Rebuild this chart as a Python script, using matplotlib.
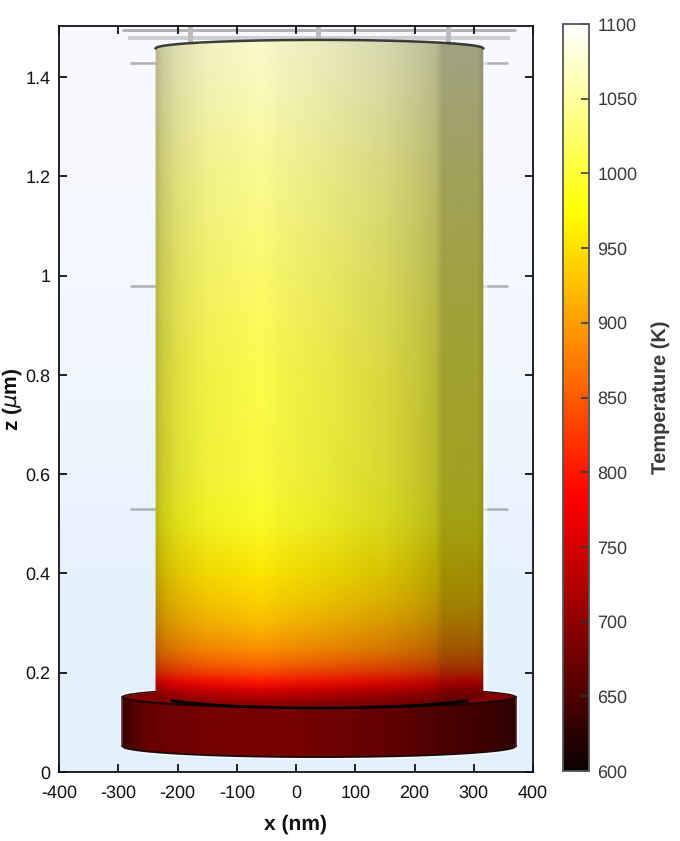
import numpy as np
import matplotlib
matplotlib.use('Agg')
import matplotlib.pyplot as plt
from matplotlib.colors import LinearSegmentedColormap, Normalize
from matplotlib.image import NonUniformImage
from matplotlib.patches import Polygon
from matplotlib.cm import ScalarMappable

plt.rcParams['font.family'] = ['Liberation Sans', 'DejaVu Sans']
plt.rcParams['axes.unicode_minus'] = False
plt.rcParams['text.hinting'] = 'no_hinting'
plt.rcParams['text.hinting_factor'] = 1

# ---- data ----
T_MIN, T_MAX = 600, 1100
CBAR_TICKS = [600, 650, 700, 750, 800, 850, 900, 950, 1000, 1050, 1100]
X_TICKS = [-400, -300, -200, -100, 0, 100, 200, 300, 400]
Z_TICKS = [0, 0.2, 0.4, 0.6, 0.8, 1.0, 1.2, 1.4]
Z_LABELS = ['0', '0.2', '0.4', '0.6', '0.8', '1', '1.2', '1.4']

# temperature on the wire (rows: z, columns: x)
WIRE_X = [-237, -60, 130, 316]
WIRE_Z = [0.125, 0.14, 0.16, 0.18, 0.20, 0.225, 0.25, 0.30, 0.35, 0.40, 0.50,
          0.60, 0.80, 1.00, 1.20, 1.40, 1.48]
WIRE_T = [[690, 695, 690, 680],
          [700, 710, 705, 700],
          [735, 750, 740, 735],
          [785, 800, 790, 785],
          [825, 838, 830, 825],
          [860, 872, 865, 860],
          [885, 895, 890, 885],
          [915, 928, 920, 918],
          [935, 945, 940, 938],
          [950, 958, 955, 952],
          [985, 993, 990, 988],
          [1000, 1005, 1002, 1000],
          [1010, 1012, 1012, 1010],
          [1025, 1027, 1027, 1025],
          [1045, 1046, 1046, 1045],
          [1068, 1070, 1070, 1068],
          [1075, 1078, 1078, 1075]]

# lighting of the wire across x
SHADE_X = [-237, -225, -200, -150, -100, -60, -30, 50, 150, 200, 235, 246, 305, 316]
SHADE_DARK = [0.28, 0.20, 0.13, 0.06, 0.04, 0.02, 0.05, 0.09, 0.16, 0.22, 0.28, 0.37, 0.37, 0.44]

# pad (disc) under the wire
PAD_X = [-293, -280, -250, -150, 0, 150, 280, 340, 371]
PAD_T = [672, 678, 682, 682, 682, 680, 672, 668, 664]
PAD_DARK = [0.45, 0.3, 0.12, 0.0, 0.0, 0.14, 0.34, 0.44, 0.5]
PAD_TOP_T = 690

# geometry of the two bodies (nm, um)
WIRE_LEFT, WIRE_RIGHT = -237, 316
WIRE_TOP_EDGE, WIRE_TOP_BULGE = 1.458, 0.017
WIRE_BASE_EDGE, WIRE_BASE_BULGE = 0.155, 0.026
PAD_LEFT, PAD_RIGHT = -293, 371
PAD_TOP_EDGE, PAD_FRONT_BULGE, PAD_BACK_BULGE = 0.151, 0.021, 0.020
PAD_BASE_EDGE, PAD_BASE_BULGE = 0.052, 0.022

# faint mesh marks behind the object
MARK_FULL = [(1.495, -293, 371, 3.0, '#b4b4b8'), (1.478, -283, 362, 4.0, '#cfcfd3')]
MARK_Z = [1.428, 0.979, 0.530]
MARK_SIDES = [(-280, -237), (316, 357)]
MARK_STUB_X = [-179, 37, 257]

BG_ROWS = [[[247, 249, 255]], [[240, 246, 254]], [[226, 240, 254]]]

# ---- figure ----
fig = plt.figure(figsize=(6.8, 8.41), dpi=100)
W, H = 680, 841
ax = fig.add_axes([59 / W, 1 - 772 / H, (533 - 59) / W, (772 - 26) / H])
ax.set_xlim(-400, 400)
ax.set_ylim(0, 1.503)

cmap = plt.get_cmap('hot')
norm = Normalize(T_MIN, T_MAX)
dark = LinearSegmentedColormap.from_list('dark', [(0, 0, 0, 0), (0, 0, 0, 1)])
dark_norm = Normalize(0, 1)

ax.imshow(np.array(BG_ROWS, dtype=np.uint8), extent=(-400, 400, 0, 1.503), aspect='auto',
          interpolation='bilinear', zorder=0)


def arc(x, left, right, edge, bulge):
    u = (np.asarray(x, float) - (left + right) / 2) / ((right - left) / 2)
    return edge + bulge * np.sqrt(np.clip(1 - u ** 2, 0, 1))


def field(x, z, values, colormap, scale, clip, zorder):
    im = NonUniformImage(ax, interpolation='bilinear', cmap=colormap, norm=scale, zorder=zorder,
                         extent=(x[0], x[-1], z[0], z[-1]))
    im.set_data(np.asarray(x, float), np.asarray(z, float), np.asarray(values, float))
    ax.add_image(im)
    im.set_clip_path(clip)
    return im


# background marks
for z, a, b, lw, c in MARK_FULL:
    ax.plot([a, b], [z, z], color=c, lw=lw * 0.72, solid_capstyle='butt', zorder=1)
for z in MARK_Z:
    for a, b in MARK_SIDES:
        ax.plot([a, b], [z, z], color='#b2b2b6', lw=2.6 * 0.72, solid_capstyle='butt', zorder=1)
for x in MARK_STUB_X:
    ax.plot([x, x], [1.458, 1.503], color='#bcbcbc', lw=5 * 0.72, solid_capstyle='butt', zorder=1)

xs_pad = np.linspace(PAD_LEFT, PAD_RIGHT, 241)
xs_wire = np.linspace(WIRE_LEFT, WIRE_RIGHT, 241)

pad_top_front = arc(xs_pad, PAD_LEFT, PAD_RIGHT, PAD_TOP_EDGE, -PAD_FRONT_BULGE)
pad_top_back = arc(xs_pad, PAD_LEFT, PAD_RIGHT, PAD_TOP_EDGE, PAD_BACK_BULGE)
pad_bottom = arc(xs_pad, PAD_LEFT, PAD_RIGHT, PAD_BASE_EDGE, -PAD_BASE_BULGE)

# halo around the pad and right of the wire
halo_x = np.r_[xs_pad, xs_pad[::-1]]
halo_z = np.r_[pad_bottom, pad_top_back[::-1]]
ax.add_patch(Polygon(np.c_[halo_x, halo_z], closed=True, fc='none', ec='white', lw=3.6, alpha=0.6, zorder=2))
ax.plot([WIRE_RIGHT + 3, WIRE_RIGHT + 3], [0.16, 1.45], color='white', lw=2.5, alpha=0.6,
        solid_capstyle='butt', zorder=2)

# pad side
pad_clip = Polygon(np.c_[np.r_[xs_pad, xs_pad[::-1]], np.r_[pad_bottom, pad_top_front[::-1]]],
                   closed=True, fc='none', ec='none', transform=ax.transData)
ax.add_patch(pad_clip)
pz = [0.0, 0.16]
field(PAD_X, pz, [PAD_T, PAD_T], cmap, norm, pad_clip, 3)
field(PAD_X, pz, [PAD_DARK, PAD_DARK], dark, dark_norm, pad_clip, 3.1)

# pad top
ax.fill_between(xs_pad, pad_top_front, pad_top_back, color=cmap(norm(PAD_TOP_T)), lw=0, zorder=3.2)
ax.plot(xs_pad, pad_top_back, color='#2a0a0a', lw=1.1, zorder=3.3)
ax.plot(xs_pad, pad_top_front, color='#1a0303', lw=1.6, zorder=3.3)
ax.plot(xs_pad, pad_bottom, color='#1c0a0a', lw=1.3, zorder=3.3)
ax.plot([PAD_LEFT, PAD_LEFT], [PAD_BASE_EDGE, PAD_TOP_EDGE], color='#5a2a34', lw=1.2, zorder=3.3)
ax.plot([PAD_RIGHT, PAD_RIGHT], [PAD_BASE_EDGE, PAD_TOP_EDGE], color='#4a2026', lw=1.2, zorder=3.3)

# wire body
wire_top = arc(xs_wire, WIRE_LEFT, WIRE_RIGHT, WIRE_TOP_EDGE, WIRE_TOP_BULGE)
wire_base = arc(xs_wire, WIRE_LEFT, WIRE_RIGHT, WIRE_BASE_EDGE, -WIRE_BASE_BULGE)
wire_clip = Polygon(np.c_[np.r_[xs_wire, xs_wire[::-1]], np.r_[wire_base, wire_top[::-1]]],
                    closed=True, fc='none', ec='none', transform=ax.transData)
ax.add_patch(wire_clip)
field(WIRE_X, WIRE_Z, WIRE_T, cmap, norm, wire_clip, 4)
field(SHADE_X, [WIRE_Z[0], WIRE_Z[-1]], [SHADE_DARK, SHADE_DARK], dark, dark_norm, wire_clip, 4.1)

ax.plot(xs_wire, wire_top, color='#2a2a24', lw=1.8, alpha=0.9, zorder=4.3)
mid = (xs_wire > -210) & (xs_wire < 290)
ax.plot(xs_wire[mid], wire_base[mid], color='black', lw=2.0, zorder=4.3, solid_capstyle='round')

# axes frame and ticks
ax.set_xticks(X_TICKS)
ax.set_yticks(Z_TICKS)
ax.set_yticklabels(Z_LABELS)
ax.tick_params(axis='both', which='major', direction='in', top=True, right=True, length=6,
               width=1.3, labelsize=13, color='#111111', labelcolor='#111111')
ax.tick_params(axis='x', pad=9)
ax.tick_params(axis='y', pad=6)
for s in ax.spines.values():
    s.set_linewidth(1.3)
    s.set_color('#111111')
    s.set_zorder(6)
ax.set_xlabel('x (nm)', fontsize=15.2, fontweight='bold', color='#111111')
ax.set_ylabel(r'z ($\mu$m)', fontsize=15.2, fontweight='bold', color='#111111')
ax.xaxis.set_label_coords(0.5, -42 / 746)
ax.yaxis.set_label_coords(-35 / 474, 0.5)

# colour bar
cax = fig.add_axes([563 / W, 1 - 771 / H, 26 / W, 747 / H])
cb = fig.colorbar(ScalarMappable(norm=norm, cmap=cmap), cax=cax, ticks=CBAR_TICKS)
cb.outline.set_edgecolor('#555555')
cb.outline.set_linewidth(1.3)
cax.tick_params(direction='in', length=5.5, width=1.1, color='#333333', labelsize=12.7, labelcolor='#3a3a3a', pad=6)
cb.set_label('Temperature (K)', fontsize=14.2, fontweight='bold', color='#3a3a3a')
cax.yaxis.set_label_coords(88 / 26, 0.5)

fig.savefig('out.png', dpi=100)
